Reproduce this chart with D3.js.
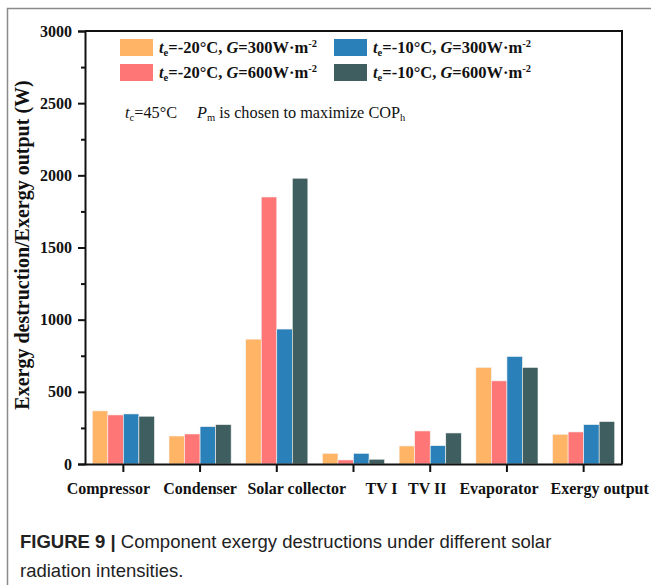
<!DOCTYPE html>
<html>
<head>
<meta charset="utf-8">
<script src="https://cdn.jsdelivr.net/npm/d3@7"></script>
<style>
  body { margin: 0; background: #fff; }
  svg { display: block; }
</style>
</head>
<body>
<div id="chart"></div>
<script>
// Categories and series values (W)
const categories = ["Compressor", "Condenser", "Solar collector", "TV I", "TV II", "Evaporator", "Exergy output"];
const seriesKeys = ["s20_300", "s20_600", "s10_300", "s10_600"];
const s20_300 = [368, 194, 865, 74, 125, 669, 206];
const s20_600 = [340, 208, 1850, 28, 229, 576, 222];
const s10_300 = [347, 259, 935, 74, 127, 745, 273];
const s10_600 = [331, 273, 1980, 33, 215, 669, 294];
const yTicks = [0, 500, 1000, 1500, 2000, 2500, 3000];
const colors = ["#FFB466", "#FF7676", "#2A80B9", "#3E5E5F"];

const values = {s20_300, s20_600, s10_300, s10_600};

// horizontal nudge of the category labels (layout only)
const labelShift = [-15, 0, 20, 28, -3, -8, 16];

const W = 651, H = 585;
const margin = {top: 31, right: 29, bottom: 121, left: 85};
const width = W - margin.left - margin.right;
const height = H - margin.top - margin.bottom;

const svgRoot = d3.select("#chart").append("svg")
    .attr("width", W)
    .attr("height", H);

// card border
svgRoot.append("path")
    .attr("d", "M7.5," + H + " V8.5 H" + W)
    .attr("fill", "none")
    .attr("stroke", "#8a8a8a")
    .attr("stroke-width", 1.5);

const svg = svgRoot.append("g")
    .attr("transform", "translate(" + margin.left + "," + margin.top + ")");

// X scale
const x0 = d3.scaleBand()
    .domain(categories)
    .range([0, width])
    .paddingInner(0.19)
    .paddingOuter(0.095);

const x1 = d3.scaleBand()
    .domain(seriesKeys)
    .range([0, x0.bandwidth()]);

// Y scale
const y = d3.scaleLinear()
    .domain([0, 3000])
    .range([height, 0]);

// Bars
const groups = svg.selectAll("g.cat")
    .data(categories)
    .join("g")
    .attr("class", "cat")
    .attr("transform", d => "translate(" + x0(d) + ",0)");

groups.selectAll("rect")
    .data((d, i) => seriesKeys.map((k, j) => ({key: k, value: values[k][i], color: colors[j]})))
    .join("rect")
    .attr("x", d => x1(d.key))
    .attr("y", d => y(d.value))
    .attr("width", x1.bandwidth())
    .attr("height", d => height - y(d.value))
    .attr("fill", d => d.color)
    .attr("stroke", "#f4f4f4")
    .attr("stroke-width", 0.6);

// Y axis (major + minor ticks)
const yAxis = svg.append("g")
    .call(d3.axisLeft(y).tickValues(yTicks).tickFormat(d3.format("d")).tickSize(7).tickPadding(6));
yAxis.selectAll("text")
    .attr("font-family", "Liberation Serif")
    .attr("font-weight", "bold")
    .attr("font-size", 16)
    .attr("fill", "#111");

svg.append("g")
    .call(d3.axisLeft(y).tickValues(d3.range(250, 3000, 500)).tickSize(4).tickFormat(""))
    .select(".domain").remove();

// X axis
const xAxis = svg.append("g")
    .attr("transform", "translate(0," + height + ")")
    .call(d3.axisBottom(x0).tickSizeInner(8).tickSizeOuter(0).tickPadding(11));
xAxis.selectAll("text")
    .attr("font-family", "Liberation Serif")
    .attr("font-weight", "bold")
    .attr("font-size", 16)
    .attr("fill", "#111")
    .attr("dx", (d, i) => labelShift[i]);

svg.selectAll(".domain, .tick line")
    .attr("stroke", "#111")
    .attr("stroke-width", 2);

// Frame (top and right)
svg.append("path")
    .attr("d", "M0,0 H" + width + " V" + height)
    .attr("fill", "none")
    .attr("stroke", "#111")
    .attr("stroke-width", 2);

// Y axis title
svgRoot.append("text")
    .attr("transform", "translate(29,245) rotate(-90)")
    .attr("text-anchor", "middle")
    .attr("font-family", "Liberation Serif")
    .attr("font-weight", "bold")
    .attr("font-size", 20)
    .attr("fill", "#111")
    .text("Exergy destruction/Exergy output (W)");

// Legend
const legendTe = ["-20", "-20", "-10", "-10"];
const legendG = ["300", "600", "300", "600"];
const legendPos = [[120, 39], [120, 64], [334, 39], [334, 64]];

legendPos.forEach((p, i) => {
  svgRoot.append("rect")
      .attr("x", p[0]).attr("y", p[1])
      .attr("width", 33).attr("height", 17)
      .attr("fill", colors[i]);
  const t = svgRoot.append("text")
      .attr("x", p[0] + 39).attr("y", p[1] + 14)
      .attr("font-family", "Liberation Serif")
      .attr("font-weight", "bold")
      .attr("font-size", 16.5)
      .attr("fill", "#111");
  t.append("tspan").attr("font-style", "italic").text("t");
  t.append("tspan").attr("font-size", 10.5).attr("dy", 3).text("e");
  t.append("tspan").attr("dy", -3).text("=" + legendTe[i] + "°C, ");
  t.append("tspan").attr("font-style", "italic").text("G");
  t.append("tspan").text("=" + legendG[i] + "W·m");
  t.append("tspan").attr("font-size", 10.5).attr("dy", -6).text("-2");
});

// Annotation
const ann = svgRoot.append("text")
    .attr("x", 125).attr("y", 118)
    .attr("font-family", "Liberation Serif")
    .attr("font-size", 16.3)
    .attr("fill", "#111");
ann.append("tspan").attr("font-style", "italic").text("t");
ann.append("tspan").attr("font-size", 10.5).attr("dy", 3).text("c");
ann.append("tspan").attr("dy", -3).text("=45°C");
ann.append("tspan").attr("x", 197).attr("font-style", "italic").text("P");
ann.append("tspan").attr("font-size", 10.5).attr("dy", 3).text("m");
ann.append("tspan").attr("dy", -3).text(" is chosen to maximize COP");
ann.append("tspan").attr("font-size", 10.5).attr("dy", 3).text("h");

// Caption
const cap = svgRoot.append("text")
    .attr("x", 20).attr("y", 548)
    .attr("font-family", "Liberation Sans")
    .attr("font-size", 18.5)
    .attr("fill", "#222");
cap.append("tspan").attr("font-weight", "bold").text("FIGURE 9 | ");
cap.append("tspan").text("Component exergy destructions under different solar");
svgRoot.append("text")
    .attr("x", 20).attr("y", 577)
    .attr("font-family", "Liberation Sans")
    .attr("font-size", 18.5)
    .attr("fill", "#222")
    .text("radiation intensities.");
</script>
</body>
</html>
